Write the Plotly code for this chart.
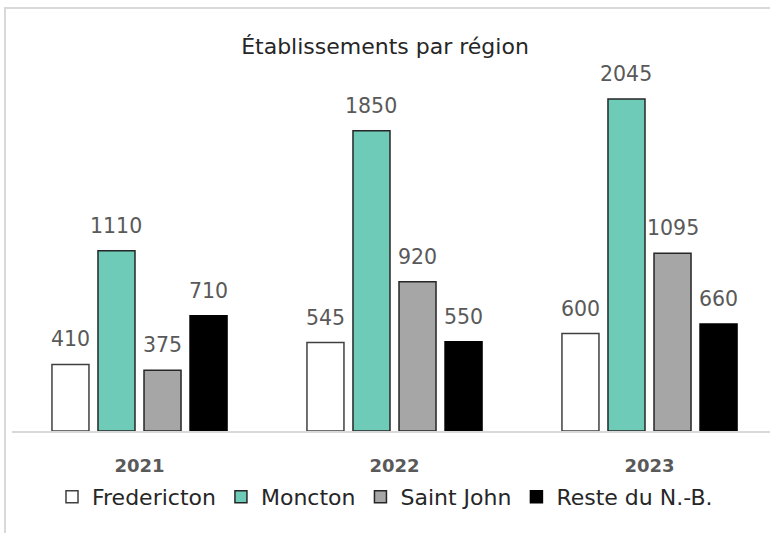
import plotly.graph_objects as go

years = ["2021", "2022", "2023"]
series_names = ["Fredericton", "Moncton", "Saint John", "Reste du N.-B."]
fredericton = [410, 545, 600]
moncton = [1110, 1850, 2045]
saint_john = [375, 920, 1095]
reste = [710, 550, 660]

values = [fredericton, moncton, saint_john, reste]
fills = ["#FFFFFF", "#6DCBB8", "#A6A6A6", "#000000"]
lines = ["#404040", "#262626", "#262626", "#000000"]

FONT = "DejaVu Sans"
W, H = 770, 533
ml, mr, mt, mb = 12, 0, 41, 102
ph = H - mt - mb
pw = W - ml - mr
BARGAP = 0.278
BARGROUPGAP = 0.196

fig = go.Figure()
xs = list(range(len(years)))
n = len(series_names)
slot = (1 - BARGAP) / n
for i, (name, vals, fc, lc) in enumerate(zip(series_names, values, fills, lines)):
    fig.add_trace(go.Bar(
        x=xs, y=vals, name=name,
        marker=dict(color=fc, line=dict(color=lc, width=1.5)),
    ))
    off = (i - (n - 1) / 2) * slot
    for xi, v in zip(xs, vals):
        fig.add_annotation(x=xi + off, y=v, xref="x", yref="y", text=str(v),
                           showarrow=False, yanchor="middle", yshift=25,
                           font=dict(family=FONT, size=20.5, color="#595959"))

# frame lines (left and top), in paper coords
def px_to_paper_x(px):
    return (px - ml) / pw

def py_to_paper_y(py):
    return (H - mb - py) / ph

fig.add_shape(type="line", xref="paper", yref="paper",
              x0=px_to_paper_x(5), x1=px_to_paper_x(5),
              y0=py_to_paper_y(7), y1=py_to_paper_y(540),
              line=dict(color="#D9D9D9", width=2))
fig.add_shape(type="line", xref="paper", yref="paper",
              x0=px_to_paper_x(4), x1=px_to_paper_x(780),
              y0=py_to_paper_y(8), y1=py_to_paper_y(8),
              line=dict(color="#D9D9D9", width=2))

fig.update_layout(
    width=W, height=H,
    margin=dict(l=ml, r=mr, t=mt, b=mb),
    paper_bgcolor="white", plot_bgcolor="white",
    barmode="group", bargap=BARGAP, bargroupgap=BARGROUPGAP,
    title=dict(text="Établissements par région", x=0.5, xanchor="center",
               xref="container", yref="container", y=1 - 46 / H, yanchor="middle",
               font=dict(family=FONT, size=22, color="#262626")),
    showlegend=True,
    legend=dict(orientation="h", x=0.5, xanchor="center", xref="container",
                yref="container", y=1 - 497 / H, yanchor="middle",
                font=dict(family=FONT, size=22, color="#262626"),
                itemwidth=30, tracegroupgap=0, traceorder="normal"),
    xaxis=dict(tickmode="array", tickvals=xs, ticktext=years,
               range=[-0.5, -0.5 + pw / 255.0],
               showgrid=False, zeroline=False, showline=True,
               linecolor="#D9D9D9", linewidth=1.5, ticks="",
               tickfont=dict(family=FONT, size=18, color="#595959", weight="bold"),
               ticklabelstandoff=18, fixedrange=True),
    yaxis=dict(range=[0, ph / 0.1623], visible=False, showgrid=False,
               zeroline=False, fixedrange=True),
)

fig.write_html("out.html", config={"displayModeBar": False},
               post_script="document.body.style.margin='0px';")
